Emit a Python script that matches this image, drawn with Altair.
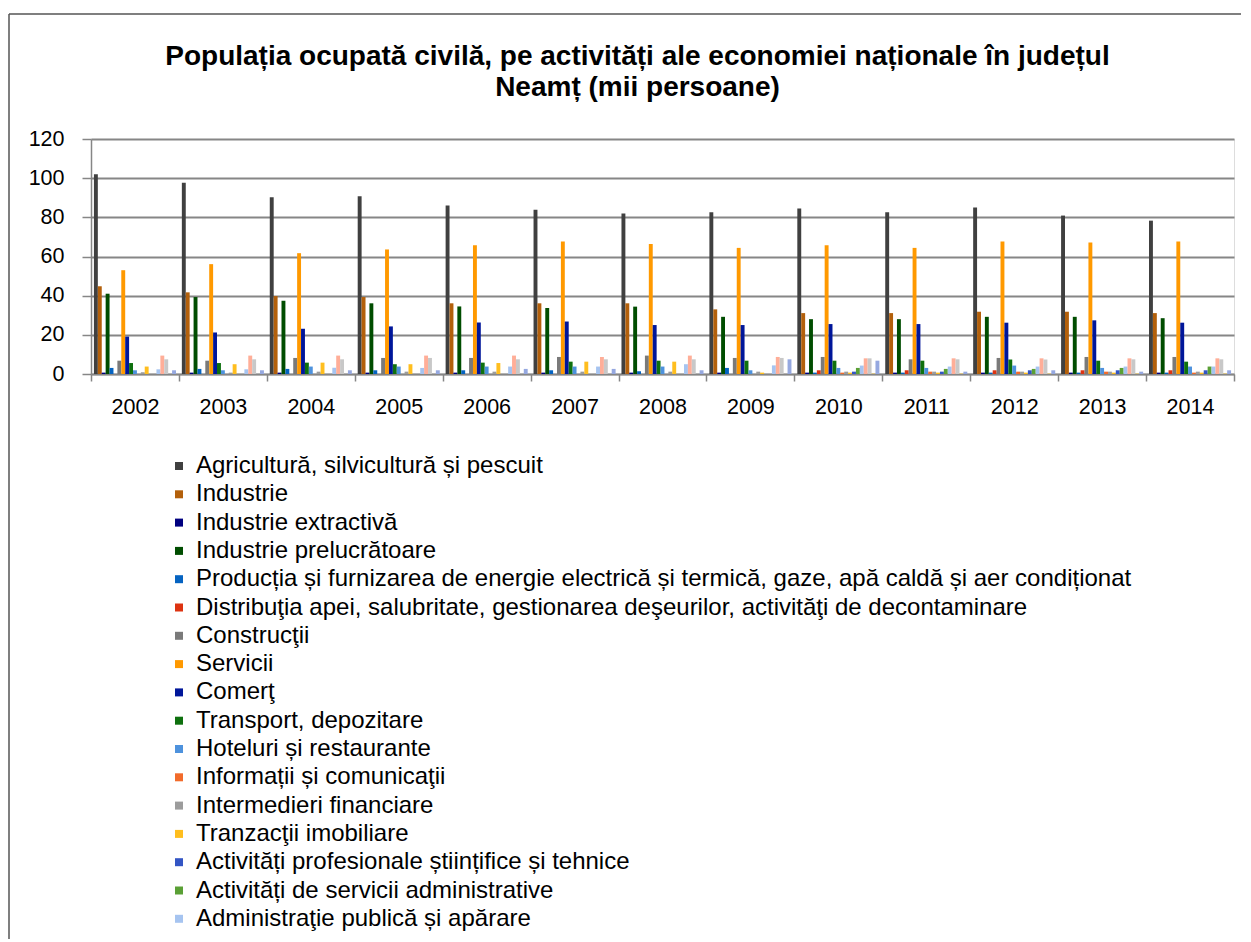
import altair as alt
import pandas as pd

years = [str(y) for y in range(2002, 2015)]

series = [
    "Agricultură, silvicultură și pescuit",
    "Industrie",
    "Industrie extractivă",
    "Industrie prelucrătoare",
    "Producția și furnizarea de energie electrică și termică, gaze, apă caldă și aer condiționat",
    "Distribuţia apei, salubritate, gestionarea deşeurilor, activităţi de decontaminare",
    "Construcţii",
    "Servicii",
    "Comerţ",
    "Transport, depozitare",
    "Hoteluri și restaurante",
    "Informații și comunicaţii",
    "Intermedieri financiare",
    "Tranzacţii imobiliare",
    "Activități profesionale științifice și tehnice",
    "Activități de servicii administrative",
    "Administraţie publică și apărare",
    "Învăţământ",
    "Sănătate şi asistenţă socială",
    "Activităţi de spectacole, culturale şi recreative",
    "Alte activităţi de servicii",
]

colors = [
    "#404040", "#B3600B", "#000080", "#004D00", "#0563C1", "#DD3311",
    "#7A7A7A", "#FF9900", "#00169A", "#0E700E", "#4E92DD", "#F26B2B",
    "#9C9C9C", "#FFBE1E", "#3355C4", "#5AA035", "#A6C4F0", "#FFAE98",
    "#C8C8C8", "#F2D06B", "#95A8E0",
]

agricultura = [102, 97.6, 90.2, 90.8, 86, 83.9, 81.9, 82.6, 84.5, 82.6, 85, 80.9, 78.3]
industrie = [44.8, 41.7, 39.8, 39.3, 36.1, 36.1, 36.1, 33, 31.1, 31.1, 31.8, 31.8, 31.1]
extractiva = [0.7, 0.7, 0.7, 0.7, 0.7, 0.7, 0.7, 0.7, 0.7, 0.7, 0.7, 0.7, 0.7]
prelucratoare = [41, 39.3, 37.4, 36.1, 34.5, 33.7, 34.4, 29.2, 28, 28, 29.2, 29.2, 28.5]
energie = [3.1, 2.6, 2.6, 1.9, 1.9, 1.9, 1.4, 3.1, 0.7, 0.7, 0.7, 0.7, 0.7]
distributia = [0, 0, 0, 0, 0, 0, 0, 0, 1.9, 1.9, 1.9, 1.9, 1.9]
constructii = [6.8, 6.8, 8.2, 8.2, 8.2, 8.7, 9.4, 8.2, 8.7, 7.5, 8.2, 8.7, 8.7]
servicii = [53, 56.1, 61.7, 63.6, 65.8, 67.6, 66.4, 64.4, 65.8, 64.4, 67.6, 67.1, 67.6]
comert = [19.1, 21.2, 23.1, 24.3, 26.3, 26.8, 25, 25, 25.5, 25.5, 26.2, 27.4, 26.2]
transport = [5.6, 5.6, 5.8, 5, 5.8, 6.3, 6.8, 6.8, 6.8, 6.8, 7.4, 6.8, 6.3]
hoteluri = [1.9, 1.9, 3.8, 3.8, 3.8, 3.8, 3.8, 1.9, 3.1, 3.1, 4.3, 3.1, 3.8]
informatii = [0, 0, 0, 0, 0, 0, 0, 0, 0.7, 1.2, 1.2, 1.2, 0.7]
intermedieri = [0.9, 0.7, 1.2, 1.2, 1.2, 1.2, 1.2, 1.2, 1.2, 1.2, 1.2, 1.2, 1.2]
tranzactii = [3.8, 5, 5.8, 5, 5.6, 6.3, 6.3, 0.7, 0.7, 0.7, 0.7, 0.7, 0.7]
profesionale = [0, 0, 0, 0, 0, 0, 0, 0, 1.2, 1.2, 1.9, 1.9, 1.9]
administrative = [0, 0, 0, 0, 0, 0, 0, 0, 3.1, 2.6, 2.6, 3.1, 3.8]
adm_publica = [2.4, 2.4, 3.2, 3.1, 3.8, 3.8, 5, 4.4, 4.3, 3.8, 3.8, 3.8, 3.8]
invatamant = [9.4, 9.4, 9.4, 9.4, 9.4, 8.7, 9.4, 8.7, 8, 8, 8, 8, 8]
sanatate = [7.5, 7.5, 7.5, 8.2, 7.5, 7.5, 7.5, 8.2, 8, 7.5, 7.4, 7.5, 7.5]
spectacole = [0, 0, 0, 0, 0, 0, 0, 0, 0.3, 0.3, 0.3, 0.3, 0.3]
alte = [1.9, 1.9, 1.9, 1.9, 2.6, 2.6, 1.9, 7.5, 6.8, 1.2, 1.9, 1.2, 1.9]

values = [agricultura, industrie, extractiva, prelucratoare, energie, distributia,
          constructii, servicii, comert, transport, hoteluri, informatii,
          intermedieri, tranzactii, profesionale, administrative, adm_publica,
          invatamant, sanatate, spectacole, alte]

rows = []
for s, vals in zip(series, values):
    for y, v in zip(years, vals):
        rows.append({"An": y, "Activitate": s, "Valoare": v})
df = pd.DataFrame(rows)

FONT = "Liberation Sans"
GRID = "#868686"

bars = alt.Chart(df).mark_bar().encode(
    x=alt.X("An:N", sort=years, title=None,
            scale=alt.Scale(paddingInner=0, paddingOuter=0),
            axis=alt.Axis(labelAngle=0, tickBand="extent", tickSize=7,
                          labelPadding=15, labelFontSize=21.5, labelFont=FONT,
                          labelColor="#000000", domainColor=GRID, tickColor=GRID,
                          domainWidth=1.5, tickWidth=1.5, grid=False)),
    xOffset=alt.XOffset("Activitate:N", sort=series,
                        scale=alt.Scale(paddingInner=0, paddingOuter=0.75)),
    y=alt.Y("Valoare:Q", title=None,
            scale=alt.Scale(domain=[0, 120], nice=False),
            axis=alt.Axis(values=[0, 20, 40, 60, 80, 100, 120], tickSize=9,
                          labelPadding=18, labelFontSize=21.5, labelFont=FONT,
                          labelColor="#000000", domainColor=GRID, tickColor=GRID,
                          domainWidth=1.5, tickWidth=1.5, gridColor=GRID,
                          gridWidth=1.8)),
    color=alt.Color("Activitate:N", sort=series,
                    scale=alt.Scale(domain=series, range=colors),
                    legend=alt.Legend(values=series[:17], orient="none",
                                      legendX=76, legendY=315, title=None,
                                      padding=0, symbolType="square",
                                      symbolSize=64, symbolStrokeWidth=0,
                                      labelFontSize=24, labelFont=FONT,
                                      labelColor="#000000", labelLimit=0,
                                      labelOffset=5, rowPadding=4.3,
                                      direction="vertical", columns=1)),
)

frame_top = alt.Chart(pd.DataFrame({"k": [0]})).mark_rule(
    color="#555555", strokeWidth=1.5
).encode(x=alt.value(-82), x2=alt.value(1150), y=alt.value(-125))

frame_left = alt.Chart(pd.DataFrame({"k": [0]})).mark_rule(
    color="#555555", strokeWidth=1.5
).encode(x=alt.value(-82), y=alt.value(-125), y2=alt.value(800))

chart = alt.layer(bars, frame_top, frame_left).properties(
    width=1143,
    height=235,
    padding={"left": 0, "top": 5, "right": 0, "bottom": 0},
    title=alt.TitleParams(
        text=["Populația ocupată civilă, pe activități ale economiei naționale în județul",
              "Neamț (mii persoane)"],
        anchor="middle", fontSize=28, font=FONT, fontWeight="bold",
        color="#000000", lineHeight=31.5, dx=-25, offset=-89),
).configure_view(stroke=None).configure(background="#ffffff")

chart.save("out.html", embed_options={"renderer": "svg", "actions": False})
